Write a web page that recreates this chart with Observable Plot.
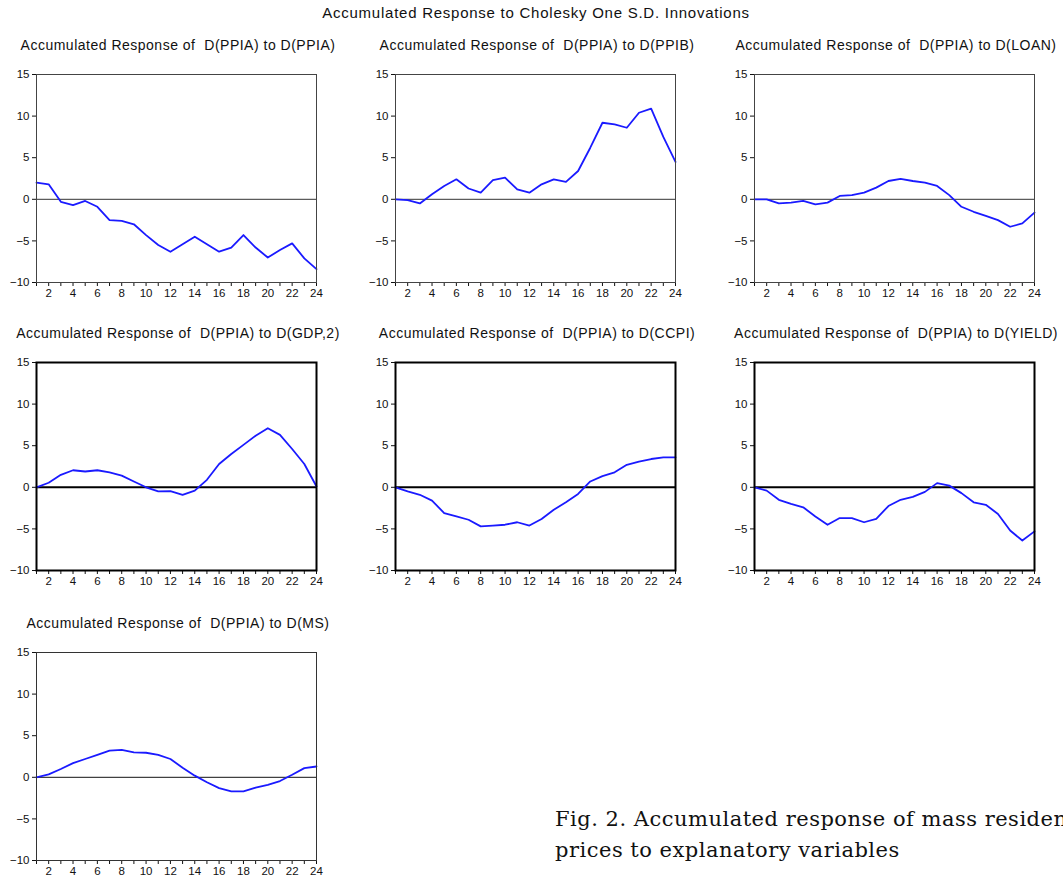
<!DOCTYPE html>
<html>
<head>
<meta charset="utf-8">
<script src="https://cdn.jsdelivr.net/npm/d3@7"></script>
<script src="https://cdn.jsdelivr.net/npm/@observablehq/plot@0.6"></script>
<style>
  body { margin: 0; background: #fff; }
  #page { position: relative; width: 1063px; height: 879px; overflow: hidden; background: #fff;
          font-family: "Liberation Sans", Arial, sans-serif; color: #111; }
  .main-title { position: absolute; left: 186px; width: 700px; top: 4px; text-align: center;
                font-size: 15px; letter-spacing: 0.75px; white-space: nowrap; }
  .title { position: absolute; width: 440px; text-align: center; white-space: pre; font-size: 14px;
           letter-spacing: 0.5px; }
  .panel { position: absolute; }
  .caption { position: absolute; left: 555px; top: 804px; font-family: "DejaVu Serif", serif;
             font-size: 21px; letter-spacing: 0.5px; line-height: 31px; white-space: nowrap; color: #111; }
</style>
</head>
<body>
<div id="page">
  <div class="main-title">Accumulated Response to Cholesky One S.D. Innovations</div>
  <div class="caption">Fig. 2. Accumulated response of mass residential housing<br>prices to explanatory variables</div>
</div>
<script>
// Horizon (periods after the shock)
const periods = [1, 2, 3, 4, 5, 6, 7, 8, 9, 10, 11, 12, 13, 14, 15, 16, 17, 18, 19, 20, 21, 22, 23, 24];

// Accumulated responses of D(PPIA) to each shock
const respPPIA  = [2.0, 1.8, -0.3, -0.7, -0.2, -0.9, -2.5, -2.6, -3.0, -4.3, -5.5, -6.3, -5.4, -4.5, -5.4, -6.3, -5.8, -4.3, -5.8, -7.0, -6.1, -5.3, -7.1, -8.4];
const respPPIB  = [0.0, -0.1, -0.5, 0.6, 1.6, 2.4, 1.3, 0.8, 2.3, 2.6, 1.2, 0.8, 1.8, 2.4, 2.1, 3.4, 6.2, 9.2, 9.0, 8.6, 10.4, 10.9, 7.5, 4.5];
const respLOAN  = [0.0, 0.0, -0.5, -0.4, -0.2, -0.6, -0.4, 0.4, 0.5, 0.8, 1.4, 2.2, 2.45, 2.2, 2.0, 1.6, 0.5, -0.9, -1.5, -2.0, -2.5, -3.3, -2.9, -1.6];
const respGDP2  = [0.0, 0.55, 1.5, 2.05, 1.9, 2.05, 1.8, 1.4, 0.7, 0.0, -0.5, -0.45, -0.9, -0.4, 0.9, 2.8, 4.0, 5.1, 6.2, 7.1, 6.3, 4.6, 2.8, 0.1];
const respCCPI  = [0.0, -0.5, -0.9, -1.6, -3.1, -3.5, -3.9, -4.7, -4.6, -4.5, -4.2, -4.6, -3.8, -2.7, -1.8, -0.8, 0.7, 1.35, 1.8, 2.7, 3.1, 3.4, 3.6, 3.6];
const respYIELD = [0.0, -0.4, -1.5, -2.0, -2.4, -3.5, -4.5, -3.7, -3.7, -4.2, -3.8, -2.25, -1.5, -1.15, -0.55, 0.5, 0.2, -0.7, -1.8, -2.1, -3.2, -5.2, -6.4, -5.3];
const respMS    = [0.0, 0.35, 1.0, 1.7, 2.2, 2.7, 3.2, 3.3, 3.0, 2.95, 2.7, 2.2, 1.15, 0.2, -0.6, -1.3, -1.7, -1.7, -1.25, -0.9, -0.45, 0.3, 1.1, 1.3];

const shockNames = ["D(PPIA)", "D(PPIB)", "D(LOAN)", "D(GDP,2)", "D(CCPI)", "D(YIELD)", "D(MS)"];
const responses  = [respPPIA, respPPIB, respLOAN, respGDP2, respCCPI, respYIELD, respMS];

const yTicks = [-10, -5, 0, 5, 10, 15];

// Grid placement of the seven panels (column lefts, row tops) and per-row line weights
const colLeft = [0, 359, 718];
const rowTop = [60, 348, 638];
const rowStyle = [
  { frame: "#444", frameWidth: 1, zero: "#333", zeroWidth: 1 },
  { frame: "#000", frameWidth: 2, zero: "#000", zeroWidth: 2 },
  { frame: "#333", frameWidth: 1, zero: "#111", zeroWidth: 1 }
];

const W = 340, H = 240, ML = 36, MR = 24, MT = 14, MB = 18;
const page = document.getElementById("page");

responses.forEach((values, i) => {
  const row = Math.floor(i / 3), col = i % 3;
  const st = rowStyle[row];
  const data = periods.map((p, k) => ({ period: p, value: values[k] }));

  const chart = Plot.plot({
    width: W, height: H,
    marginLeft: ML, marginRight: MR, marginTop: MT, marginBottom: MB,
    style: { fontFamily: "'Liberation Sans', Arial, sans-serif", fontSize: "11.5px", color: "#111", background: "transparent", overflow: "visible" },
    x: { domain: [1, 24] },
    y: { domain: [-10, 15] },
    marks: [
      Plot.axisY({ ticks: yTicks, tickSize: 4, tickPadding: 3, label: null }),
      Plot.axisX({ ticks: periods, tickSize: 4, tickPadding: 2, label: null,
                   tickFormat: d => (d % 2 === 0 ? String(d) : "") }),
      Plot.ruleY([0], { stroke: st.zero, strokeWidth: st.zeroWidth }),
      Plot.line(data, { x: "period", y: "value", stroke: "#1a1aff", strokeWidth: 1.8, curve: "linear" }),
      Plot.frame({ stroke: st.frame, strokeWidth: st.frameWidth })
    ]
  });

  const holder = document.createElement("div");
  holder.className = "panel";
  holder.style.left = colLeft[col] + "px";
  holder.style.top = rowTop[row] + "px";
  holder.appendChild(chart);
  page.appendChild(holder);

  const title = document.createElement("div");
  title.className = "title";
  const center = colLeft[col] + ML + (W - ML - MR) / 2 + 2;
  title.style.left = (center - 220) + "px";
  title.style.top = (rowTop[row] - 23) + "px";
  title.textContent = "Accumulated Response of  D(PPIA) to " + shockNames[i];
  page.appendChild(title);
});
</script>
</body>
</html>
